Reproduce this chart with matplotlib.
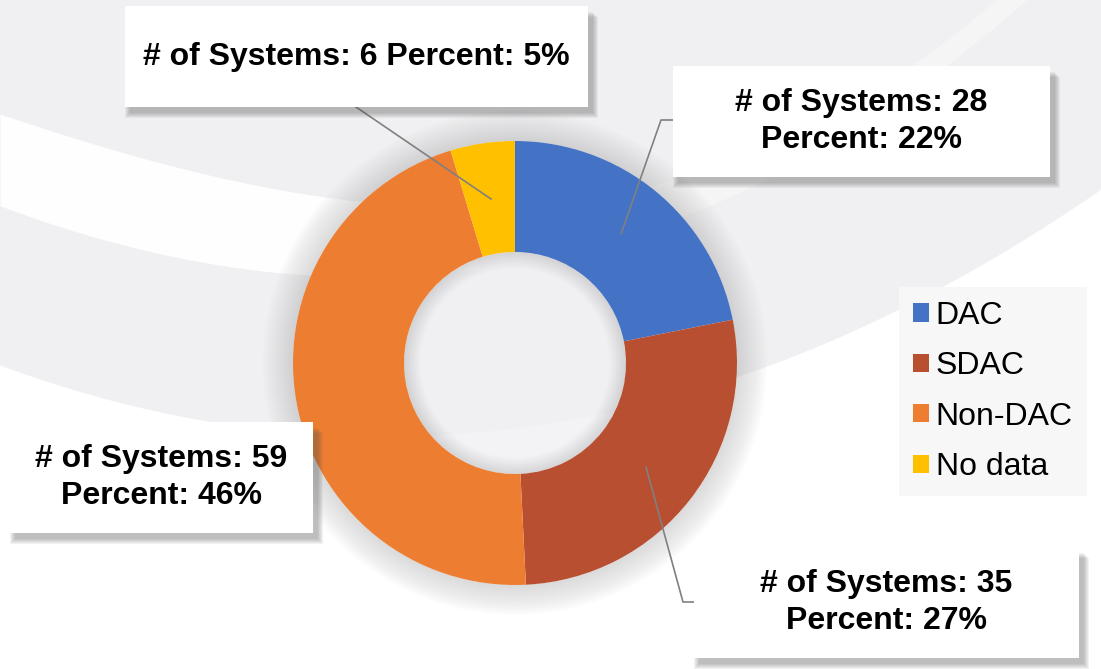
import numpy as np
import matplotlib.pyplot as plt
from matplotlib.patches import Rectangle, Wedge

plt.rcParams['font.family'] = ['Liberation Sans', 'DejaVu Sans']

# DAC status of systems
categories = ['DAC', 'SDAC', 'Non-DAC', 'No data']
systems = [28, 35, 59, 6]
colors = ['#4472C4', '#B94F31', '#ED7D31', '#FFC000']

W, H = 1101, 669
fig = plt.figure(figsize=(W / 100, H / 100), dpi=100)
fig.patch.set_facecolor('#F0F0F2')
ax = fig.add_axes([0, 0, 1, 1])
ax.set_facecolor('#F0F0F2')

def Y(y):
    # top-down pixel rows -> axes y
    return H - y

# white swooshes in the background
xs = np.linspace(0, W, 500)
band_top = np.polyfit([0, 200, 350, 500, 650, 800, 1000],
                      [117, 165, 200, 215, 190, 120, 0], 3)
band_bot = np.polyfit([0, 200, 350, 500, 650, 800, 1030],
                      [210, 250, 277, 280, 230, 150, 0], 3)
yt, yb = Y(np.polyval(band_top, xs)), Y(np.polyval(band_bot, xs))
ax.fill_between(xs, yt, yb, where=xs <= 480, color='white', alpha=0.95, lw=0, zorder=0)
ax.fill_between(xs, yt, yb, where=xs >= 480, color='white', alpha=0.35, lw=0, zorder=0)
low_edge = np.polyfit([0, 300, 520, 700, 855, 1101],
                      [368, 420, 445, 390, 320, 193], 3)
ax.fill_between(xs, Y(np.polyval(low_edge, xs)), 0, color='white', lw=0, zorder=0)

# donut with a soft shadow outside and inside the ring
cx, cy, r_out, ring = 515, Y(363), 222, 111
r_in = r_out - ring
for r in np.linspace(r_out + 2, r_out + 30, 15):
    ax.add_patch(Wedge((cx, cy), r, 0, 360, width=r - r_out,
                       color='#707070', alpha=0.014, lw=0, zorder=1))
ax.add_patch(Wedge((cx, cy), r_in, 0, 360, color='#F1F1F3', alpha=0.8, lw=0, zorder=1))
for w in np.linspace(1, 16, 10):
    ax.add_patch(Wedge((cx, cy), r_in, 0, 360, width=w,
                       color='#707070', alpha=0.018, lw=0, zorder=1))
wedges, _ = ax.pie(systems, colors=colors, startangle=90, counterclock=False,
                   radius=r_out, center=(cx, cy),
                   wedgeprops=dict(width=ring, linewidth=0, zorder=2))

# data label boxes: (left, top, right, bottom) in pixels
total = sum(systems)
boxes = [(673, 66, 1050, 177), (694, 547, 1079, 658),
         (10, 422, 313, 533), (125, 6, 588, 107)]
leaders = [[(673, 120), (661, 120), (621, 234)],
           [(694, 602), (683, 602), (646, 467)],
           None,
           [(356, 107), (491, 199)]]

for n, (l, t, r, b), lead in zip(systems, boxes, leaders):
    if lead is not None:
        px, py = zip(*lead)
        ax.plot(px, [Y(v) for v in py], color='#808080', lw=1.2, zorder=3)
    for k in range(6):
        ax.add_patch(Rectangle((l + 5 - k, Y(b + 6 + k)), r - l + 2 * k, b - t,
                               color='#505050', alpha=0.07, lw=0, zorder=4))
    ax.add_patch(Rectangle((l, Y(b)), r - l, b - t, color='white', lw=0, zorder=5))
    pct = round(100 * n / total)
    sep = ' ' if (r - l) > 420 else '\n'
    ax.text((l + r) / 2, Y((t + b) / 2), f'# of Systems: {n}{sep}Percent: {pct}%',
            ha='center', va='center', fontsize=23, fontweight='bold',
            linespacing=1.3, zorder=6)

ax.set_xlim(0, W)
ax.set_ylim(0, H)
ax.set_aspect('auto')
ax.axis('off')

leg = ax.legend(wedges, categories, loc='upper left',
                bbox_to_anchor=(899 / W, 1 - 287 / H), borderaxespad=0,
                fontsize=23, frameon=True, fancybox=False,
                facecolor='#F7F7F7', edgecolor='none', framealpha=1,
                handlelength=0.5, handleheight=0.5, handletextpad=0.22,
                labelspacing=0.64, borderpad=0.43)
leg.set_zorder(7)

fig.savefig('out.png', dpi=100, facecolor=fig.get_facecolor())
